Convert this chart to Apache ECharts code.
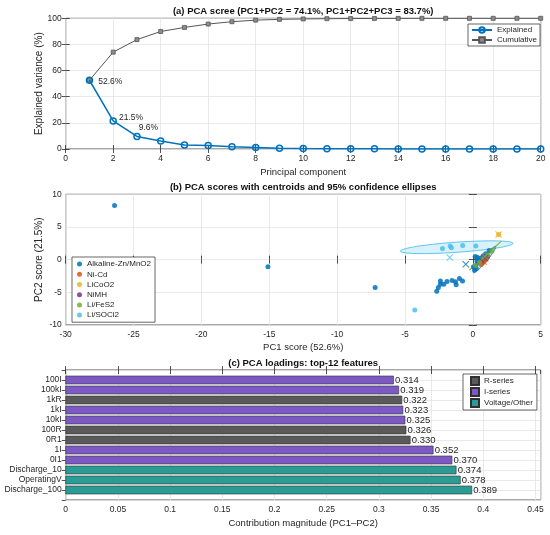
<!DOCTYPE html>
<html>
<head>
<meta charset="utf-8">
<script src="https://cdn.jsdelivr.net/npm/echarts@6/dist/echarts.min.js"></script>
<style>html,body{margin:0;padding:0;background:#fff}#c{width:550px;height:535px}</style>
</head>
<body>
<div id="c"></div>
<script>
// ---------- (a) scree data ----------
const pcIndex = [1,2,3,4,5,6,7,8,9,10,11,12,13,14,15,16,17,18,19,20];
const explained = [52.6,21.5,9.6,6.2,3.1,2.6,1.8,1.2,0.6,0.3,0.2,0.1,0.1,0.05,0.03,0.02,0.01,0.01,0,0];
const cumulative = [52.6,74.1,83.7,89.9,93.0,95.6,97.4,98.6,99.2,99.5,99.7,99.8,99.9,99.95,99.98,100,100,100,100,100];
const annotatedPCs = [1,2,3];

// ---------- (b) score data ----------
const groupNames = ['Alkaline-Zn/MnO2','Ni-Cd','LiCoO2','NiMH','Li/FeS2','Li/SOCl2'];
const alkalinePts = [[-26.4,8.3],[-15.1,-1.07],[-7.2,-4.25],
  [-2.66,-4.85],[-2.54,-4.25],[-2.39,-3.75],[-2.39,-3.25],[-2.14,-3.75],[-1.90,-3.35],[-1.53,-3.2],[-1.28,-3.4],[-1.23,-3.85],[-0.99,-2.9],[-0.76,-3.25],
  [0.12,-1.6],[0.25,-1.35],[0.05,-1.1],[0.2,-0.9],[0.35,-0.5],[0.17,0.5],[0.32,0.35],[0.45,-0.1],[0.55,0.2],[0.75,0.55],[0.95,0.9],[1.2,1.4],[0.3,-0.2]];
const nicdPts = [[0.62,-0.75],[0.75,-0.45],[0.9,-0.1],[1.0,0.15]];
const licoo2Pts = [[1.9,3.85]];
const nimhPts = [[0.85,0.2],[1.1,0.5],[0.7,-0.2]];
const lifes2Pts = [[0.2,-0.9],[0.5,-0.4],[0.8,0.2],[1.1,0.7],[1.4,1.3]];
const lisocl2Pts = [[-2.24,1.7],[-1.67,2.07],[-1.58,1.84],[-0.75,2.17],[0.22,2.07],[-4.28,-7.7]];
const centroids = [[-0.52,-0.7],[0.8,-0.3],[1.9,3.85],[0.9,0.2],[0.9,0.5],[-1.7,0.32]];
// 95% ellipses: centre (cx,cy), half-axis a (ax,ay), half-axis b (bx,by), group index
const ellAlkaline = [0.86,0.0,0.81,2.0,0.14,-0.25,0];
const ellLifes2 = [0.92,0.6,1.17,2.2,0.03,-0.05,4];
const ellLisocl2 = [-1.19,1.9,4.15,0.6,0.03,-0.77,5];

// ---------- (c) loadings ----------
const features = ['100I','100kI','1kR','1kI','10kI','100R','0R1','1I','0I1','Discharge_10','OperatingV','Discharge_100'];
const loadings = [0.314,0.319,0.322,0.323,0.325,0.326,0.330,0.352,0.370,0.374,0.378,0.389];
const featureGroup = [1,1,0,1,1,0,0,1,1,2,2,2];
const groupLabels = ['R-series','I-series','Voltage/Other'];

// ---------- styling ----------
const FONT = 'Liberation Sans, Arial, Helvetica, sans-serif';
const TXT = '#262626';
const GRIDC = '#e3e3e3';
const TICKFS = 8.5;
const grpColors = ['#0072BD','#D95319','#EDB120','#7E2F8E','#77AC30','#4DBEEE'];
const barColors = ['#5a5a5a','#7D5AC3','#2A9C94'];
const annotOffsets = [[0,1],[-3,-3],[-7,-9]];

const chart = echarts.init(document.getElementById('c'), null, {renderer:'canvas'});

const L = 65.7, W = 475;
const grids = [
  {left:L, top:18.3, width:W, height:130.7},
  {left:L, top:194.3, width:W, height:130.7},
  {left:L, top:370, width:W, height:130}
].map(g => Object.assign({show:true, borderColor:'#262626', borderWidth:0.8, containLabel:false}, g));

function mainX(gi, min, max, interval, name, gap, extra) {
  return Object.assign({
    type:'value', gridIndex:gi, min, max, interval, position:'bottom',
    name, nameLocation:'middle', nameGap:gap, nameMoveOverlap:false,
    nameTextStyle:{fontSize:9.5, color:TXT, fontFamily:FONT},
    axisLine:{show:false}, axisTick:{show:true, inside:true, length:4, lineStyle:{color:TXT, width:0.8}},
    axisLabel:{fontSize:TICKFS, color:TXT, fontFamily:FONT, margin:5},
    splitLine:{show:true, lineStyle:{color:GRIDC, width:0.8}}
  }, extra||{});
}
function mirrorX(gi, min, max, interval) {
  return {type:'value', gridIndex:gi, min, max, interval, position:'top',
    axisLine:{show:false}, axisTick:{show:true, inside:true, length:4, lineStyle:{color:TXT, width:0.8}},
    axisLabel:{show:false}, splitLine:{show:false}};
}
function mainY(gi, min, max, interval, name, gap, extra) {
  return Object.assign({
    type:'value', gridIndex:gi, min, max, interval, position:'left',
    name, nameLocation:'middle', nameGap:gap, nameMoveOverlap:false,
    nameTextStyle:{fontSize:10, color:TXT, fontFamily:FONT},
    axisLine:{show:false}, axisTick:{show:true, inside:true, length:4, lineStyle:{color:TXT, width:0.8}},
    axisLabel:{fontSize:TICKFS, color:TXT, fontFamily:FONT, margin:4},
    splitLine:{show:true, lineStyle:{color:GRIDC, width:0.8}}
  }, extra||{});
}
function mirrorY(gi, min, max, interval, extra) {
  return Object.assign({type:'value', gridIndex:gi, min, max, interval, position:'right',
    axisLine:{show:false}, axisTick:{show:true, inside:true, length:4, lineStyle:{color:TXT, width:0.8}},
    axisLabel:{show:false}, splitLine:{show:false}}, extra||{});
}

const xAxes = [
  mainX(0, 0, 20, 2, 'Principal component', 18),
  mirrorX(0, 0, 20, 2),
  mainX(1, -30, 5, 5, 'PC1 score (52.6%)', 17),
  mirrorX(1, -30, 5, 5),
  mainX(2, 0, 0.455, 0.05, 'Contribution magnitude (PC1\u2013PC2)', 18, {axisLabel:{fontSize:TICKFS, color:TXT, fontFamily:FONT, margin:5, showMaxLabel:false}}),
  mirrorX(2, 0, 0.455, 0.05)
];
const yAxes = [
  mainY(0, 0, 100, 20, 'Explained variance (%)', 21),
  mirrorY(0, 0, 100, 20),
  mainY(1, -10, 10, 5, 'PC2 score (21.5%)', 21),
  mirrorY(1, -10, 10, 5),
  mainY(2, 0, 13, 1, '', 0, {inverse:true,
    axisTick:{show:false},
    axisLabel:{fontSize:TICKFS, color:TXT, fontFamily:FONT, margin:4, formatter:(v)=> features[Math.round(v)-1] || ''},
    splitLine:{show:true, lineStyle:{color:GRIDC, width:0.8}}}),
  mirrorY(2, 0, 13, 1, {inverse:true})
];

// scree series
const explainedData = pcIndex.map((x,i) => {
  const k = annotatedPCs.indexOf(x);
  const item = {value:[x, explained[i]]};
  if (k >= 0) item.label = {show:true, position:'right', offset:annotOffsets[k],
    formatter: explained[i].toFixed(1) + '%', fontSize:8.5, color:TXT, fontFamily:FONT};
  return item;
});
const series = [
  {name:'Cumulative', type:'line', xAxisIndex:0, yAxisIndex:0,
   data: pcIndex.map((x,i)=>[x, cumulative[i]]),
   symbol:'rect', symbolSize:4, lineStyle:{color:'#555555', width:1},
   itemStyle:{color:'#8c8c8c', borderColor:'#555555', borderWidth:0.8}, z:3, animation:false},
  {name:'Explained', type:'line', xAxisIndex:0, yAxisIndex:0,
   data: explainedData,
   symbol:'circle', symbolSize:6, lineStyle:{color:'#0072BD', width:1.5},
   itemStyle:{color:'rgba(255,255,255,0)', borderColor:'#0072BD', borderWidth:1.5}, z:4, animation:false}
];

// ellipses
series.push({
  type:'custom', name:'ellipses', xAxisIndex:2, yAxisIndex:2,
  data:[ellLisocl2, ellAlkaline, ellLifes2],
  encode:{x:0, y:1}, clip:true, z:2, animation:false, silent:true,
  renderItem:(params, api) => {
    const cx=api.value(0), cy=api.value(1), ax=api.value(2), ay=api.value(3), bx=api.value(4), by=api.value(5), g=api.value(6);
    const pts=[];
    for (let k=0;k<=72;k++){
      const t=k/72*2*Math.PI;
      pts.push(api.coord([cx+Math.cos(t)*ax+Math.sin(t)*bx, cy+Math.cos(t)*ay+Math.sin(t)*by]));
    }
    const c = grpColors[g];
    return {type:'polygon', shape:{points:pts},
      style:{fill: echarts.color.modifyAlpha(c, 0.22), stroke:c, lineWidth:0.9}};
  }
});
const groupPts = [alkalinePts, nicdPts, licoo2Pts, nimhPts, lifes2Pts, lisocl2Pts];
groupPts.forEach((pts, g) => {
  series.push({name:groupNames[g], type:'scatter', xAxisIndex:2, yAxisIndex:2,
    data:pts, symbol:'circle', symbolSize:5, itemStyle:{color:grpColors[g], opacity:0.85}, z:5, animation:false});
});
const xPath = 'path://M1,0 L5,4 L9,0 L10,1 L6,5 L10,9 L9,10 L5,6 L1,10 L0,9 L4,5 L0,1 Z';
series.push({name:'centroids', type:'scatter', xAxisIndex:2, yAxisIndex:2,
  data: centroids.map((p,g)=>({value:p, itemStyle:{color:grpColors[g]}})),
  symbol:xPath, symbolSize:7, z:6, animation:false});

// loadings bars
series.push({
  type:'custom', name:'loadings', xAxisIndex:4, yAxisIndex:4,
  data: loadings.map((v,i)=>[v, i+1, featureGroup[i]]),
  encode:{x:0, y:1}, z:3, animation:false, clip:false,
  renderItem:(params, api) => {
    const v=api.value(0), p=api.value(1), g=api.value(2);
    const s=api.coord([0,p]), e=api.coord([v,p]);
    const h=Math.abs(api.size([0,0.8])[1]);
    return {type:'group', children:[
      {type:'rect', shape:{x:s[0], y:s[1]-h/2, width:e[0]-s[0], height:h},
       style:{fill:barColors[g], stroke:'#303030', lineWidth:0.6}},
      {type:'text', x:e[0]+1.5, y:e[1]+0.5, style:{text:v.toFixed(3), align:'left', verticalAlign:'middle',
        fontSize:9.5, fill:TXT, fontFamily:FONT}}
    ]};
  }
});
groupLabels.forEach((n,g)=>{
  series.push({name:n, type:'bar', xAxisIndex:4, yAxisIndex:4, data:[],
    itemStyle:{color:barColors[g], borderColor:'#303030', borderWidth:0.6}, animation:false});
});

const legendBase = {orient:'vertical', backgroundColor:'#fff', borderColor:'#262626', borderWidth:0.7,
  itemGap:0, selectedMode:false};
const legends = [
  Object.assign({}, legendBase, {data:['Explained','Cumulative'], left:468, top:24, padding:[1,3,1,3],
    itemWidth:20, itemHeight:7, textStyle:{fontSize:8, color:TXT, fontFamily:FONT, lineHeight:10}}),
  Object.assign({}, legendBase, {data:groupNames, left:72, top:257, padding:[2,4,2,5],
    icon:'circle', itemWidth:5, itemHeight:5, textStyle:{fontSize:8, color:TXT, fontFamily:FONT, lineHeight:10.2}}),
  Object.assign({}, legendBase, {data:groupLabels, left:463, top:374, padding:[2,4,2,7],
    icon:'rect', itemWidth:8, itemHeight:8, itemGap:1, textStyle:{fontSize:8, color:TXT, fontFamily:FONT, lineHeight:9}})
];

const titleStyle = {font:'bold 9.5px ' + FONT, fill:'#111', align:'center', verticalAlign:'middle'};
const graphics = [
  {type:'text', x:L+W/2, y:11.5, style:Object.assign({text:'(a) PCA scree (PC1+PC2 = 74.1%, PC1+PC2+PC3 = 83.7%)'}, titleStyle)},
  {type:'text', x:L+W/2, y:187, style:Object.assign({text:'(b) PCA scores with centroids and 95% confidence ellipses'}, titleStyle)},
  {type:'text', x:L+W/2, y:363.3, style:Object.assign({text:'(c) PCA loadings: top-12 features'}, titleStyle)}
];

chart.setOption({
  animation:false,
  textStyle:{fontFamily:FONT},
  grid:grids, xAxis:xAxes, yAxis:yAxes, series, legend:legends, graphic:graphics
});
</script>
</body>
</html>
